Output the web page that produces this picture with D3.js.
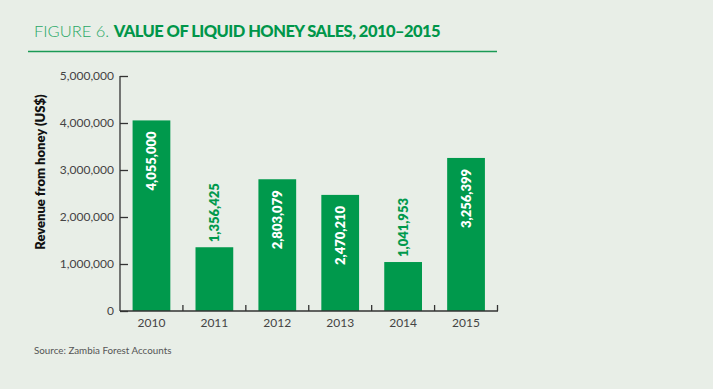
<!DOCTYPE html>
<html><head><meta charset="utf-8">
<script src="https://cdn.jsdelivr.net/npm/d3@7"></script>
<style>
html,body{margin:0;padding:0;background:#e8eee7;}
svg{display:block;}
</style></head>
<body>
<svg id="c" width="713" height="389"></svg>
<script>
const years = ["2010","2011","2012","2013","2014","2015"];
const revenue = [4055000, 1356425, 2803079, 2470210, 1041953, 3256399];
const yTicks = [0, 1000000, 2000000, 3000000, 4000000, 5000000];
const insideLabel = [true, false, true, true, false, true];

const svg = d3.select("#c");
const green = "#00994c";
const font = "Lato, 'Open Sans', sans-serif";

// Title
const t = svg.append("text").attr("x", 34).attr("y", 37)
  .attr("font-family", font).attr("font-size", 16.5);
t.append("tspan").text("FIGURE 6. ").attr("fill", "#2aa866").attr("font-weight", 300);
t.append("tspan").text("VALUE OF LIQUID HONEY SALES, 2010–2015").attr("fill", "#00964a")
  .attr("font-weight", 900).attr("letter-spacing", -0.55);
svg.append("line").attr("x1", 28).attr("x2", 497).attr("y1", 51.5).attr("y2", 51.5)
  .attr("stroke", "#1a9a55").attr("stroke-width", 1.6);

const x = d3.scaleBand().domain(years).range([120, 497.5]).paddingInner(0.4).paddingOuter(0.2);
const y = d3.scaleLinear().domain([0, 5000000]).range([311, 76]);

// y axis
const ya = svg.append("g").attr("transform", "translate(120,0)")
  .call(d3.axisLeft(y).tickValues(yTicks).tickSize(-8).tickPadding(14).tickFormat(d3.format(",")));
ya.select(".domain").attr("stroke", "#333").attr("stroke-width", 1.3).attr("d", "M0,76V311");
ya.selectAll(".tick line").attr("stroke", "#333").attr("stroke-width", 1.3);
ya.selectAll(".tick text").attr("font-family", font).attr("font-size", 12).attr("fill", "#444").attr("x", -6);

// bars
svg.selectAll("rect.bar").data(revenue).join("rect").attr("class", "bar")
  .attr("x", (d, i) => x(years[i])).attr("width", x.bandwidth())
  .attr("y", d => y(d)).attr("height", d => y(0) - y(d)).attr("fill", green);

// x axis
const xa = svg.append("g").attr("transform", "translate(0,311)");
xa.append("line").attr("x1", 120).attr("x2", 498).attr("stroke", "#333").attr("stroke-width", 1.3);
const bounds = years.map((d, i) => 120 + (i + 1) * (377.5 / years.length));
xa.selectAll("line.tk").data(bounds).join("line").attr("class", "tk")
  .attr("x1", d => d).attr("x2", d => d).attr("y1", 0).attr("y2", -6)
  .attr("stroke", "#333").attr("stroke-width", 1.3);
xa.selectAll("text").data(years).join("text")
  .attr("x", d => x(d) + x.bandwidth() / 2).attr("y", 16)
  .attr("text-anchor", "middle").attr("font-family", font).attr("font-size", 12).attr("fill", "#444")
  .text(d => d);

// value labels
svg.selectAll("text.val").data(revenue).join("text").attr("class", "val")
  .attr("transform", (d, i) => {
    const cx = x(years[i]) + x.bandwidth() / 2 + 4.5;
    const yy = insideLabel[i] ? y(d) + 11 : y(d) - 5;
    return `translate(${cx},${yy}) rotate(-90)`;
  })
  .attr("text-anchor", (d, i) => insideLabel[i] ? "end" : "start")
  .attr("font-family", font).attr("font-weight", 800).attr("font-size", 13)
  .attr("fill", (d, i) => insideLabel[i] ? "#ffffff" : green)
  .text(d => d3.format(",")(d));

// y label
svg.append("text").attr("transform", "translate(45,172) rotate(-90)")
  .attr("text-anchor", "middle").attr("font-family", font).attr("font-weight", 800)
  .attr("font-size", 13).attr("fill", "#111").text("Revenue from honey (US$)");

// source
svg.append("text").attr("x", 34).attr("y", 354).attr("font-family", font)
  .attr("font-size", 9.8).attr("fill", "#555").text("Source: Zambia Forest Accounts");
</script>
</body></html>
